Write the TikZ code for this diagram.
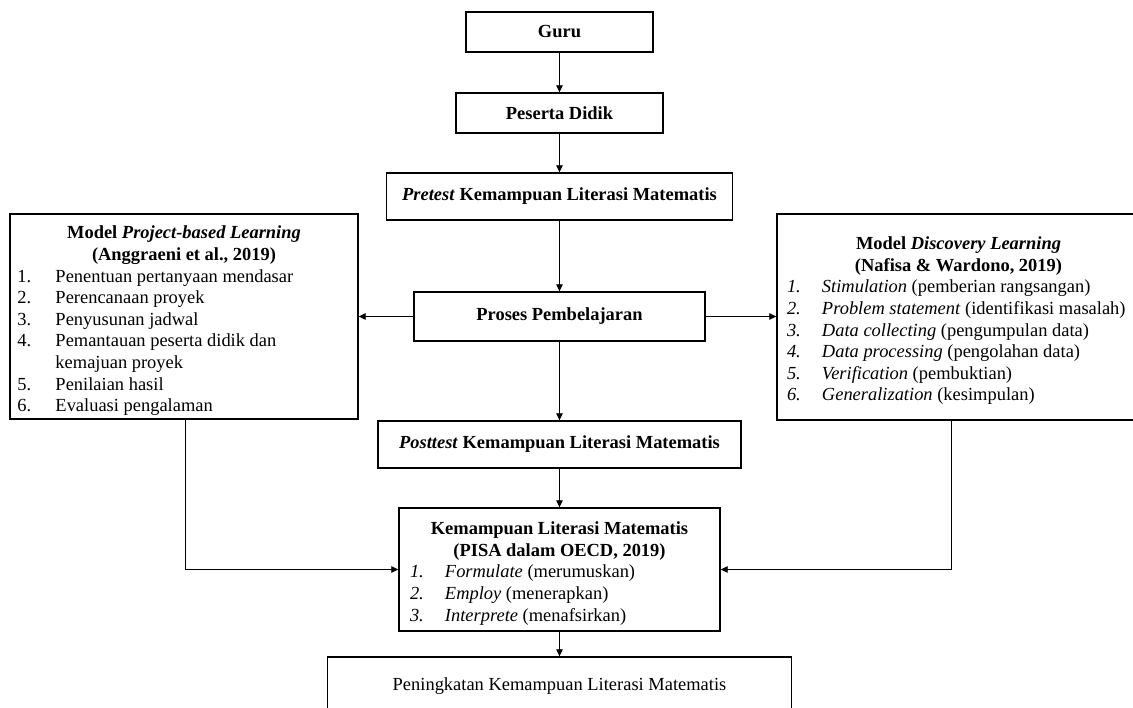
\documentclass[tikz,border=0pt]{standalone}
\usepackage{fontspec}
\setmainfont{Liberation Serif}
\usetikzlibrary{arrows.meta}

\begin{document}
\begin{tikzpicture}[
    font=\fontsize{10.5}{12.3}\selectfont,
    box/.style={
        rectangle,
        draw,
        line width=0.8pt,
        inner sep=0pt
    },
    title/.style={
        box,
        font=\fontsize{10.5}{12.3}\selectfont\bfseries
    },
    flow/.style={
        -{Triangle[length=1.4mm,width=1.3mm]},
        line width=0.5pt
    }
]
    \useasboundingbox (0,0) rectangle (22.66,-14.14);

    % Main flow
    \node[title, minimum width=3.74cm, minimum height=0.80cm] (guru) at (11.19,-0.64) {Guru};
    \node[title, minimum width=4.14cm, minimum height=0.80cm] (peserta) at (11.19,-2.26) {Peserta Didik};
    \node[title, minimum width=6.92cm, minimum height=0.94cm] (pretest) at (11.19,-3.93) {\textit{Pretest} Kemampuan Literasi Matematis};
    \node[title, minimum width=5.82cm, minimum height=0.98cm] (proses) at (11.19,-6.33) {Proses Pembelajaran};
    \node[title, minimum width=7.26cm, minimum height=0.94cm] (posttest) at (11.19,-8.89) {\textit{Posttest} Kemampuan Literasi Matematis};

    % Indicators
    \node[box, minimum width=6.42cm, minimum height=2.46cm] (klm) at (11.19,-11.39) {%
        \raisebox{-0.08cm}[\height][\depth]{\begin{tabular}{@{}p{0.70cm}@{}p{5.28cm}@{}}
            \multicolumn{2}{c}{\bfseries Kemampuan Literasi Matematis}\\
            \multicolumn{2}{c}{\bfseries (PISA dalam OECD, 2019)}\\
            \textit{1.} & \textit{Formulate} (merumuskan)\\
            \textit{2.} & \textit{Employ} (menerapkan)\\
            \textit{3.} & \textit{Interprete} (menafsirkan)
        \end{tabular}}};
    \node[box, minimum width=9.28cm, minimum height=1.16cm] (hasil) at (11.19,-13.72) {Peningkatan Kemampuan Literasi Matematis};

    % Learning models
    \node[box, minimum width=6.96cm, minimum height=4.10cm] (pbl) at (3.68,-6.33) {%
        \raisebox{-0.09cm}[\height][\depth]{\begin{tabular}{@{}p{0.76cm}@{}p{5.9cm}@{}}
            \multicolumn{2}{c}{\bfseries Model \textit{Project-based Learning}}\\
            \multicolumn{2}{c}{\bfseries (Anggraeni et al., 2019)}\\
            1. & Penentuan pertanyaan mendasar\\
            2. & Perencanaan proyek\\
            3. & Penyusunan jadwal\\
            4. & Pemantauan peserta didik dan\\
               & kemajuan proyek\\
            5. & Penilaian hasil\\
            6. & Evaluasi pengalaman
        \end{tabular}}};
    \node[box, minimum width=7.46cm, minimum height=4.12cm] (dl) at (19.27,-6.34) {%
        \raisebox{-0.08cm}[\height][\depth]{\begin{tabular}{@{}p{0.70cm}@{}p{6.16cm}@{}}
            \multicolumn{2}{c}{\bfseries Model \textit{Discovery Learning}}\\
            \multicolumn{2}{c}{\bfseries (Nafisa \& Wardono, 2019)}\\
            \textit{1.} & \textit{Stimulation} (pemberian rangsangan)\\
            \textit{2.} & \textit{Problem statement} (identifikasi masalah)\\
            \textit{3.} & \textit{Data collecting} (pengumpulan data)\\
            \textit{4.} & \textit{Data processing} (pengolahan data)\\
            \textit{5.} & \textit{Verification} (pembuktian)\\
            \textit{6.} & \textit{Generalization} (kesimpulan)
        \end{tabular}}\kern0.2cm};

    % Connections
    \draw[flow] (guru) -- (peserta);
    \draw[flow] (peserta) -- (pretest);
    \draw[flow] (pretest) -- (proses);
    \draw[flow] (proses) -- (posttest);
    \draw[flow] (posttest) -- (klm);
    \draw[flow] (klm) -- (hasil);
    \draw[flow] (proses.west) -- (proses.west -| pbl.east);
    \draw[flow] (proses.east) -- (proses.east -| dl.west);
    \draw[flow] ([xshift=0.02cm]pbl.south) |- (klm.west);
    \draw[flow] ([xshift=-0.25cm]dl.south) |- (klm.east);

\end{tikzpicture}
\end{document}
